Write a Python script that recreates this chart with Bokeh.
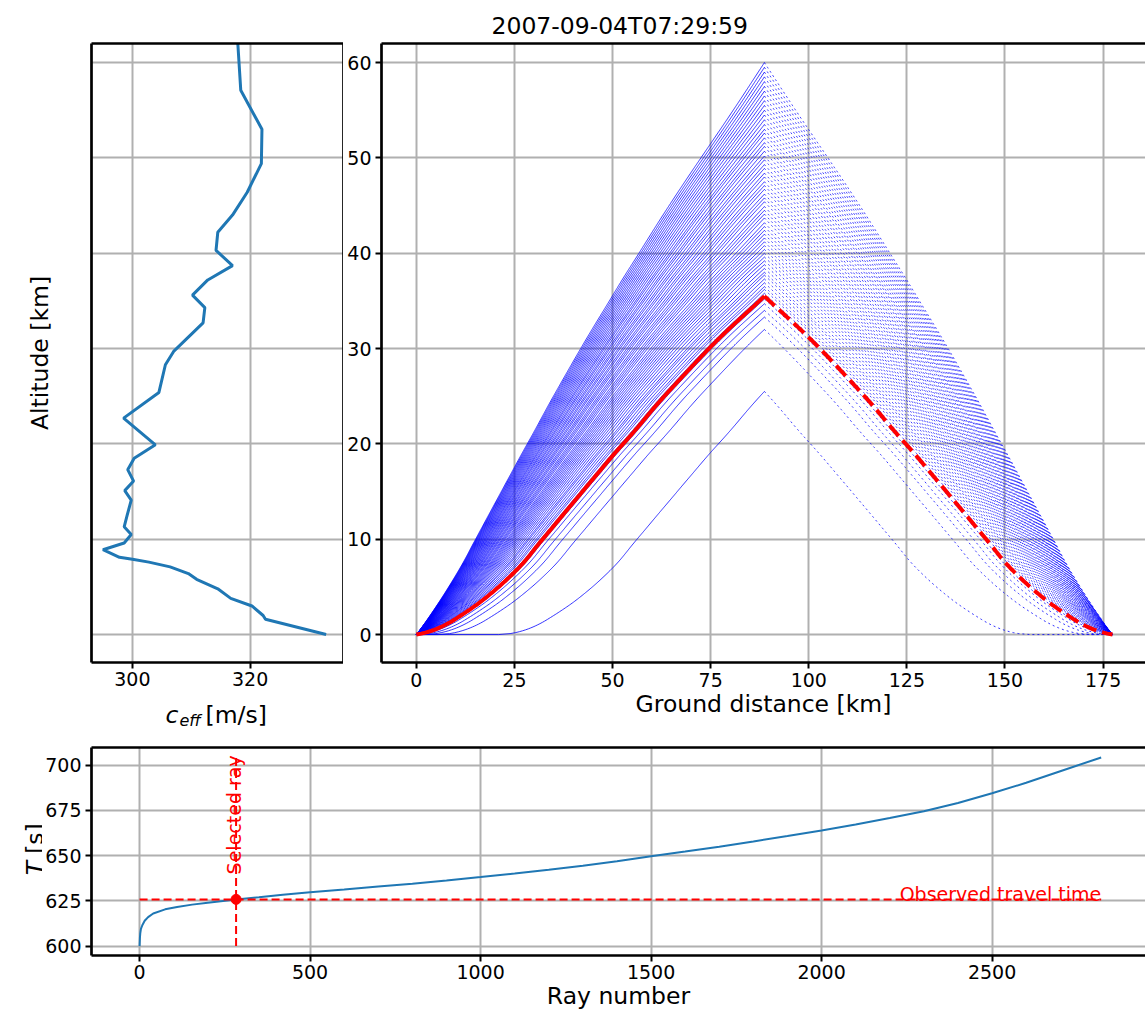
import numpy as np
from bokeh.plotting import figure
from bokeh.layouts import column, row
from bokeh.models import LinearAxis, FixedTicker, Label, Range1d
from bokeh.core.properties import value
from bokeh.embed import file_html
from bokeh.resources import INLINE

FONT = "DejaVu Sans"
TITLE = "2007-09-04T07:29:59"

# Effective sound speed profile (altitude in km, c_eff in m/s)
ALTITUDE_KM = [0.0, 1.6, 2.0, 3.0, 3.8, 4.8, 5.8, 6.4, 7.1, 7.6, 7.9, 8.1, 8.9,
               9.6, 10.5, 11.3, 12.5, 14.1, 15.1, 16.1, 17.3, 18.5, 19.9, 22.7,
               25.4, 28.3, 29.7, 32.7, 34.3, 35.6, 37.2, 38.7, 40.3, 42.2, 44.0,
               46.4, 49.4, 53.0, 57.1, 62.0]
C_EFF = [332.9, 322.6, 322.2, 320.3, 316.7, 314.5, 310.9, 309.5, 306.4, 302.8,
         300.0, 297.8, 295.0, 298.6, 299.8, 298.6, 299.1, 299.8, 298.7, 300.2,
         299.2, 300.3, 303.9, 298.5, 304.5, 305.6, 307.0, 312.0, 312.3, 310.2,
         312.8, 317.0, 314.2, 314.5, 317.0, 319.5, 321.9, 322.0, 318.4, 317.9]

# Turning altitude of every plotted eigenray (km) and source-receiver range
RAY_APEX_KM = [25.5, 32.0, 33.3, 34.0, 34.7, 35.2,
               35.8, 36.2, 36.5, 36.9, 37.3, 37.7, 38.0, 38.4, 38.8, 39.2,
               39.6, 40.0, 40.4, 40.8, 41.2, 41.6, 42.0, 42.4, 42.8, 43.2,
               43.7, 44.1, 44.5, 44.9, 45.4, 45.8, 46.2, 46.7, 47.1, 47.5,
               48.0, 48.4, 48.9, 49.3, 49.8, 50.2, 50.7, 51.2, 51.6, 52.1,
               52.6, 53.0, 53.5, 54.0, 54.5, 55.0, 55.5, 56.0, 56.5, 57.0,
               57.5, 58.0, 58.5, 59.0, 59.5, 60.0]
SELECTED_APEX_KM = 35.5
SOURCE_RECEIVER_KM = 177.4

# Travel time per ray
RAY_NUMBER = [0, 1, 2, 4, 8, 15, 25, 40, 75, 110, 154, 200, 283, 350, 420,
              500, 600, 700, 800, 900, 1000, 1100, 1200, 1300, 1400, 1500,
              1600, 1700, 1800, 1900, 2000, 2100, 2200, 2300, 2400, 2500,
              2600, 2700, 2820]
TRAVEL_TIME_S = [600.0, 604.5, 607.0, 609.5, 611.5, 614.0, 616.0, 618.0,
                 620.3, 621.6, 622.9, 624.0, 625.8, 627.0, 628.3, 629.8,
                 631.3, 632.9, 634.5, 636.2, 638.1, 640.1, 642.2, 644.4,
                 646.9, 649.6, 652.2, 654.9, 657.8, 660.8, 663.9, 667.2,
                 670.7, 674.5, 679.0, 684.4, 690.2, 696.6, 704.2]
SELECTED_RAY = 283
OBSERVED_TIME_S = 625.8

X_TICKS_C = [300, 320]
Y_TICKS_ALT = [0, 10, 20, 30, 40, 50, 60]
X_TICKS_DIST = [0, 25, 50, 75, 100, 125, 150, 175]
X_TICKS_RAY = [0, 500, 1000, 1500, 2000, 2500]
Y_TICKS_T = [600, 625, 650, 675, 700]

GRID = "#b0b0b0"
SPINE_W = 2.7


# ---- ray tracing through the c_eff profile (Snell's law) ----
DZ = 0.01
z_fine = np.arange(0.0, 62.0 + DZ / 2, DZ)
z_mid = 0.5 * (z_fine[1:] + z_fine[:-1])
c_mid = np.interp(z_mid, ALTITUDE_KM, C_EFF)
c_ground = C_EFF[0]


def horizontal_range(k):
    """Cumulative ground distance x(z) for a ray with cos(takeoff) = k."""
    q = k * c_mid
    dx = q / np.sqrt(c_ground ** 2 - q ** 2) * DZ
    return np.concatenate([[0.0], np.cumsum(dx)])


x_grazing = horizontal_range(1.0)
half_range = SOURCE_RECEIVER_KM / 2.0


def ray_path(apex):
    n = int(round(apex / DZ))
    idx = np.unique(np.concatenate([np.arange(0, n + 1, 10), [n]]))
    if x_grazing[n] <= half_range:
        # grazing ray that runs along the ground before lifting off
        shift = half_range - x_grazing[n]
        x_up = np.concatenate([[0.0], x_grazing[idx] + shift])
        z_up = np.concatenate([[0.0], z_fine[idx]])
    else:
        lo, hi = 0.3, 1.0
        for _ in range(60):
            mid = 0.5 * (lo + hi)
            if horizontal_range(mid)[n] > half_range:
                hi = mid
            else:
                lo = mid
        xk = horizontal_range(0.5 * (lo + hi))
        x_up = xk[idx] * (half_range / xk[n])
        z_up = z_fine[idx]
    x_down = SOURCE_RECEIVER_KM - x_up[::-1]
    z_down = z_up[::-1]
    return list(x_up), list(z_up), list(x_down), list(z_down)


up_xs, up_zs, down_xs, down_zs = [], [], [], []
for h in RAY_APEX_KM:
    xu, zu, xd, zd = ray_path(h)
    up_xs.append(xu); up_zs.append(zu)
    down_xs.append(xd); down_zs.append(zd)
sel_xu, sel_zu, sel_xd, sel_zd = ray_path(SELECTED_APEX_KM)


# ---- helpers ----
def style_axis(ax, ticks, show_labels=True):
    ax.ticker = FixedTicker(ticks=ticks if show_labels else [])
    ax.axis_line_width = SPINE_W
    ax.axis_line_color = "black"
    ax.major_tick_line_width = 2
    ax.major_tick_line_color = "black"
    ax.major_tick_out = 6
    ax.major_tick_in = 0
    ax.minor_tick_line_color = None
    ax.major_label_text_font = FONT
    ax.major_label_text_font_size = "19px"
    ax.major_label_text_color = "black"
    ax.major_label_standoff = 4
    ax.axis_label_text_font = FONT
    ax.axis_label_text_font_size = "23.5px"
    ax.axis_label_text_font_style = "normal"
    ax.axis_label_text_color = "black"


def add_spine(p, side):
    ax = LinearAxis(ticker=FixedTicker(ticks=[]), axis_line_width=SPINE_W,
                    axis_line_color="black", major_tick_out=0, major_tick_in=0,
                    minor_tick_out=0, minor_tick_in=0)
    p.add_layout(ax, side)


def style_grid(p, xticks, yticks):
    p.xgrid.ticker = FixedTicker(ticks=xticks)
    p.ygrid.ticker = FixedTicker(ticks=yticks)
    for g in (p.xgrid, p.ygrid):
        g.grid_line_color = GRID
        g.grid_line_width = 2


def base(**kw):
    p = figure(output_backend="svg", toolbar_location=None, **kw)
    p.outline_line_color = None
    p.background_fill_color = "white"
    p.border_fill_color = "white"
    return p


def text_strip(width, height, x_range, y_range):
    """Blank canvas used for composite axis titles (frame is aligned with
    the neighbouring panel, so the ranges are given in page pixels)."""
    s = figure(width=width, height=height, x_range=x_range, y_range=y_range,
               output_backend="svg", toolbar_location=None,
               x_axis_location=None, y_axis_location=None, min_border=0,
               title=None)
    s.grid.visible = False
    s.outline_line_color = None
    s.background_fill_color = "white"
    s.border_fill_color = "white"
    return s


def put_text(p, x, y, text, size="23.5px", style="normal", angle=0.0,
             align="left"):
    p.text(x=[x], y=[y], text=[text], text_font=value(FONT),
           text_font_size=value(size), text_font_style=value(style),
           text_color="black", text_align=align, text_baseline="alphabetic",
           angle=angle)


def data_label(p, x, y, text, align="left", angle=0.0):
    p.add_layout(Label(x=x, y=y, text=text, text_font=FONT,
                       text_font_size="19px", text_color="red",
                       text_align=align, text_baseline="alphabetic",
                       angle=angle))


alt_range = Range1d(-2.93, 62.0)

# ---- effective sound speed panel ----
p1 = base(width=343, height=695, x_range=Range1d(293.05, 335.85), y_range=alt_range,
          min_border_left=91, min_border_right=0, min_border_top=43,
          min_border_bottom=33)
p1.line(C_EFF, ALTITUDE_KM, line_color="#1f77b4", line_width=3)
style_axis(p1.xaxis[0], X_TICKS_C)
p1.xaxis[0].major_label_standoff = 3
style_axis(p1.yaxis[0], Y_TICKS_ALT, show_labels=False)
p1.yaxis[0].axis_label = "Altitude [km]"
p1.yaxis[0].axis_label_standoff = 38
add_spine(p1, "above")
add_spine(p1, "right")
style_grid(p1, X_TICKS_C, Y_TICKS_ALT)

# x title of the profile panel: c_eff [m/s]
# x: page pixels (frame spans 91..343); y: pixels up from the strip bottom
ceff_title = text_strip(343, 35, Range1d(91, 343), Range1d(0, 35))
put_text(ceff_title, 165, 16, "c", style="italic")
put_text(ceff_title, 179, 10, "eff", size="16px", style="italic")
put_text(ceff_title, 205, 16, "[m/s]")

# ---- ray paths panel ----
p2 = base(width=802, height=730, x_range=Range1d(-8.87, 185.8), y_range=alt_range,
          min_border_left=38, min_border_right=0, min_border_top=43,
          min_border_bottom=68)
p2.multi_line(up_xs, up_zs, line_color="blue", line_width=0.8)
p2.multi_line(down_xs, down_zs, line_color="blue", line_width=0.8,
              line_dash="2 3")
p2.line(sel_xu, sel_zu, line_color="red", line_width=4)
p2.line(sel_xd, sel_zd, line_color="red", line_width=4, line_dash="14 6")
style_axis(p2.xaxis[0], X_TICKS_DIST)
style_axis(p2.yaxis[0], Y_TICKS_ALT)
p2.xaxis[0].axis_label = "Ground distance [km]"
p2.xaxis[0].axis_label_standoff = 0
add_spine(p2, "above")
style_grid(p2, X_TICKS_DIST, Y_TICKS_ALT)
p2.title.text = TITLE
p2.title.align = "left"
p2.title.offset = 110
p2.title.text_font = FONT
p2.title.text_font_size = "23.5px"
p2.title.text_font_style = "normal"
p2.title.text_color = "black"
p2.title.standoff = 8

# ---- travel time panel ----
p3 = base(width=1103, height=282, x_range=Range1d(-141, 2950),
          y_range=Range1d(594.8, 709.7), min_border_left=49, min_border_right=0,
          min_border_top=17, min_border_bottom=55)
p3.line(RAY_NUMBER, TRAVEL_TIME_S, line_color="#1f77b4", line_width=2)
p3.line([RAY_NUMBER[0], RAY_NUMBER[-1]], [OBSERVED_TIME_S, OBSERVED_TIME_S],
        line_color="red", line_width=2, line_dash="8 4")
p3.line([SELECTED_RAY, SELECTED_RAY], [min(TRAVEL_TIME_S), max(TRAVEL_TIME_S)],
        line_color="red", line_width=2, line_dash="8 4")
p3.scatter([SELECTED_RAY], [OBSERVED_TIME_S], size=10, fill_color="red",
           line_color="red")
style_axis(p3.xaxis[0], X_TICKS_RAY)
style_axis(p3.yaxis[0], Y_TICKS_T)
p3.xaxis[0].axis_label = "Ray number"
p3.xaxis[0].axis_label_standoff = 0
p3.xaxis[0].major_label_standoff = 3
add_spine(p3, "above")
style_grid(p3, X_TICKS_RAY, Y_TICKS_T)
data_label(p3, 276, 639.6, "Selected ray", angle=np.pi / 2)
data_label(p3, RAY_NUMBER[-1], 628.6, "Observed travel time", align="right")

# y title of the travel time panel: T [s]
# x: pixels from the strip left; y: page pixels up from the page bottom
# (frame spans page rows 747..957); each piece is anchored at its upper end
t_title = text_strip(42, 282, Range1d(0, 42), Range1d(55, 265))
put_text(t_title, 34, 150.4, "T", style="italic", angle=np.pi / 2,
         align="right")
put_text(t_title, 34, 188.5, "[s]", angle=np.pi / 2, align="right")

layout = column(row(column(p1, ceff_title), p2), row(t_title, p3))
open("out.html", "w").write(file_html(layout, INLINE))
